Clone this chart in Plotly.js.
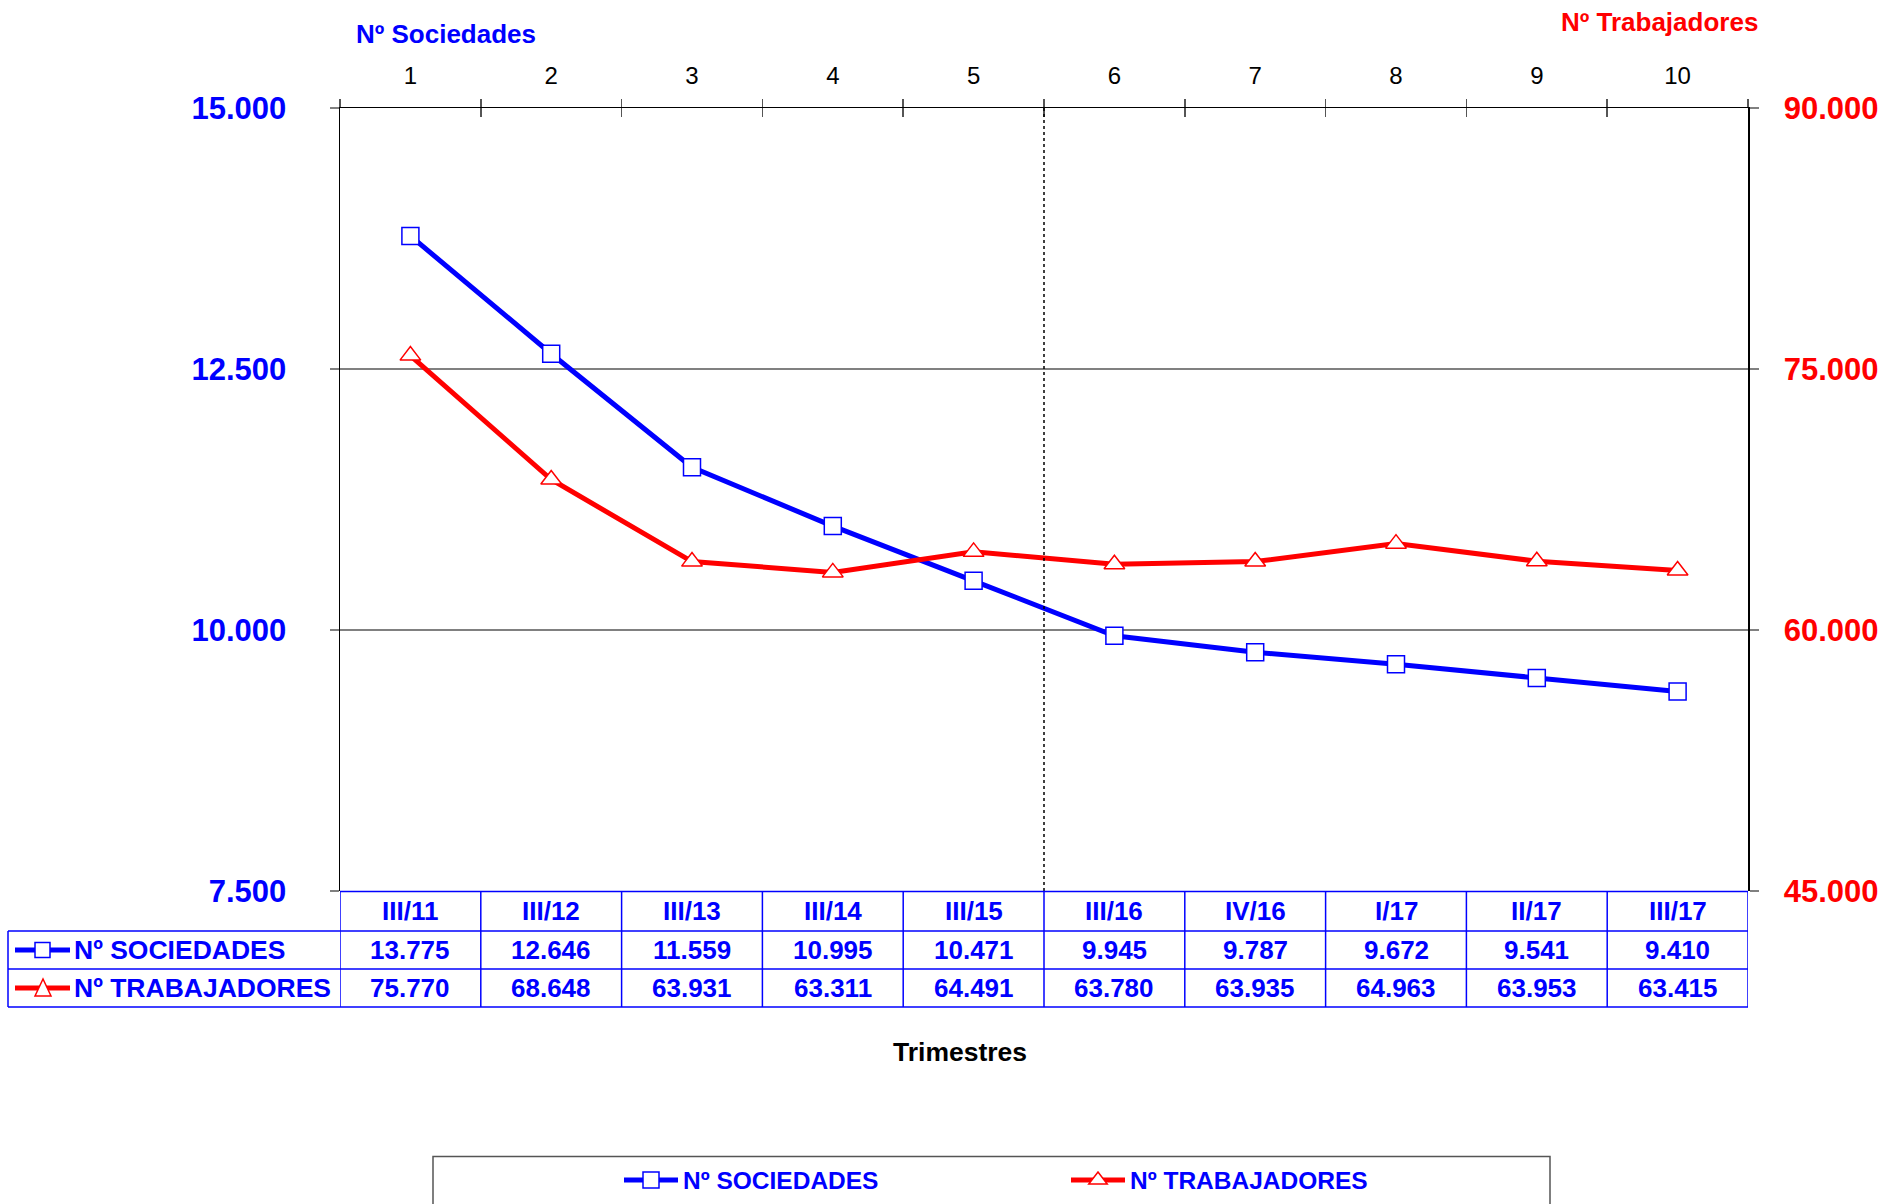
<!DOCTYPE html>
<html>
<head>
<meta charset="utf-8">
<script src="https://cdn.plot.ly/plotly-3.0.1.min.js"></script>
<style>html,body{margin:0;padding:0;background:#fff;}</style>
</head>
<body>
<div id="chart" style="width:1901px;height:1204px;"></div>
<script>
// ---- data ----
const categories = ['1','2','3','4','5','6','7','8','9','10'];
const periods = ['III/11','III/12','III/13','III/14','III/15','III/16','IV/16','I/17','II/17','III/17'];
const sociedades = [13775,12646,11559,10995,10471,9945,9787,9672,9541,9410];
const trabajadores = [75770,68648,63931,63311,64491,63780,63935,64963,63953,63415];
const seriesNames = ['Nº SOCIEDADES','Nº TRABAJADORES'];
const leftTitle = 'Nº Sociedades';
const rightTitle = 'Nº Trabajadores';
const xTitle = 'Trimestres';

// ---- geometry helpers ----
const W = 1901, H = 1204;
const M = {l:340, r:153, t:108, b:313};
const PW = W - M.l - M.r, PH = H - M.t - M.b;
const px2x = p => (p - M.l) / PW;
const px2y = p => (H - M.b - p) / PH;
const fmt = v => String(v).replace(/\B(?=(\d{3})+(?!\d))/g, '.');

const FONT = 'Arial, "Liberation Sans", Helvetica, sans-serif';
const BLUE = '#0000FF', RED = '#FF0000';

const traces = [
  {x: categories, y: sociedades, name: seriesNames[0], type: 'scatter', mode: 'lines+markers',
   xaxis: 'x', yaxis: 'y', cliponaxis: false, hoverinfo: 'skip',
   line: {color: BLUE, width: 5},
   marker: {symbol: 'square', size: 17, color: '#FFFFFF', line: {color: BLUE, width: 1.5}}},
  {x: categories, y: trabajadores, name: seriesNames[1], type: 'scatter', mode: 'lines+markers',
   xaxis: 'x', yaxis: 'y2', cliponaxis: false, hoverinfo: 'skip',
   line: {color: RED, width: 5},
   marker: {symbol: 'triangle-up', size: 18, color: '#FFFFFF', line: {color: RED, width: 1.5}}},
  {x: categories, y: categories.map(() => null), xaxis: 'x3', yaxis: 'y', type: 'scatter',
   mode: 'lines', showlegend: false, hoverinfo: 'skip'}
];

const shapes = [];
const tl = {color: BLUE, width: 1.5};
// dotted divider between 5 and 6
shapes.push({type:'line', xref:'x', yref:'paper', x0:4.5, x1:4.5, y0:0, y1:1,
  line:{color:'#000', width:1.5, dash:'dot'}});
// table: header top line
shapes.push({type:'line', xref:'x', yref:'paper', x0:-0.5, x1:categories.length-0.5,
  y0:px2y(891.5), y1:px2y(891.5), line:tl});
// row lines
[931, 969, 1007].forEach(py => shapes.push({type:'line', xref:'paper', yref:'paper',
  x0:px2x(8), x1:px2x(1748), y0:px2y(py), y1:px2y(py), line:tl}));
// column lines
for (let k = 0; k <= categories.length; k++) {
  shapes.push({type:'line', xref:'x', yref:'paper', x0:k-0.5, x1:k-0.5,
    y0:px2y(891), y1:px2y(1007), line:tl});
}
shapes.push({type:'line', xref:'paper', yref:'paper', x0:px2x(8), x1:px2x(8),
  y0:px2y(931), y1:px2y(1007), line:tl});
// row label symbols
shapes.push({type:'line', xref:'paper', yref:'paper', x0:px2x(15), x1:px2x(70),
  y0:px2y(950), y1:px2y(950), line:{color:BLUE, width:5}});
shapes.push({type:'rect', xref:'paper', yref:'paper', x0:px2x(35), x1:px2x(50),
  y0:px2y(942.5), y1:px2y(957.5), fillcolor:'#FFFFFF', line:{color:BLUE, width:1.5}});
shapes.push({type:'line', xref:'paper', yref:'paper', x0:px2x(15), x1:px2x(70),
  y0:px2y(988), y1:px2y(988), line:{color:RED, width:5}});
shapes.push({type:'path', xref:'paper', yref:'paper',
  path:'M'+px2x(35)+','+px2y(996)+' L'+px2x(51)+','+px2y(996)+' L'+px2x(43)+','+px2y(979)+' Z',
  fillcolor:'#FFFFFF', line:{color:RED, width:1.5}});
// legend box
shapes.push({type:'rect', xref:'paper', yref:'paper', x0:px2x(433), x1:px2x(1550),
  y0:px2y(1156.5), y1:px2y(1240), fillcolor:'rgba(0,0,0,0)', line:{color:'#555555', width:1.5}});

const annotations = [];
const cellFont = {family: FONT, size: 26, color: BLUE, weight: 'bold'};
categories.forEach((c, i) => {
  annotations.push({x: i, xref:'x', y: px2y(911), yref:'paper', text: periods[i],
    showarrow:false, font: cellFont, xanchor:'center', yanchor:'middle'});
  annotations.push({x: i, xref:'x', y: px2y(950), yref:'paper', text: fmt(sociedades[i]),
    showarrow:false, font: cellFont, xanchor:'center', yanchor:'middle'});
  annotations.push({x: i, xref:'x', y: px2y(988), yref:'paper', text: fmt(trabajadores[i]),
    showarrow:false, font: cellFont, xanchor:'center', yanchor:'middle'});
});
annotations.push({x: px2x(72), xref:'paper', y: px2y(950), yref:'paper', text: seriesNames[0],
  showarrow:false, xanchor:'left', yanchor:'middle', font:{family:FONT, size:26.5, color:BLUE, weight:'bold'}});
annotations.push({x: px2x(72), xref:'paper', y: px2y(988), yref:'paper', text: seriesNames[1],
  showarrow:false, xanchor:'left', yanchor:'middle', font:{family:FONT, size:26.5, color:BLUE, weight:'bold'}});
annotations.push({x: px2x(445.5), xref:'paper', y: px2y(34), yref:'paper', text: leftTitle,
  showarrow:false, xanchor:'center', yanchor:'middle', font:{family:FONT, size:26, color:BLUE, weight:'bold'}});
annotations.push({x: px2x(1659), xref:'paper', y: px2y(22), yref:'paper', text: rightTitle,
  showarrow:false, xanchor:'center', yanchor:'middle', font:{family:FONT, size:26, color:RED, weight:'bold'}});
annotations.push({x: px2x(960), xref:'paper', y: px2y(1052), yref:'paper', text: xTitle,
  showarrow:false, xanchor:'center', yanchor:'middle', font:{family:FONT, size:26.5, color:'#000', weight:'bold'}});

const layout = {
  width: W, height: H,
  margin: {l:M.l, r:M.r, t:M.t, b:M.b, pad:0, autoexpand:false},
  paper_bgcolor:'#FFFFFF', plot_bgcolor:'#FFFFFF',
  separators: ',.',
  font: {family: FONT},
  hovermode: false,
  showlegend: true,
  legend: {orientation:'h', x: px2x(619), xanchor:'left', y: px2y(1180), yanchor:'middle',
    font:{family:FONT, size:24.5, color:BLUE, weight:'bold'}, itemwidth:54, entrywidth:378,
    bgcolor:'rgba(0,0,0,0)', borderwidth:0, traceorder:'normal'},
  xaxis: {type:'category', side:'top', range:[-0.5, categories.length-0.5], tickson:'boundaries',
    ticks:'outside', ticklen:8, tickwidth:1.5, tickcolor:'#555555',
    showline:true, linecolor:'#000000', linewidth:1.5, showgrid:false, zeroline:false,
    tickfont:{family:FONT, size:24, color:'#000000'}, ticklabelstandoff:13, fixedrange:true},
  xaxis3: {type:'category', overlaying:'x', side:'top', anchor:'y', range:[-0.5, categories.length-0.5],
    tickson:'boundaries', ticks:'inside', ticklen:9, tickwidth:1.5, tickcolor:'#555555',
    showticklabels:false, showline:false, showgrid:false, zeroline:false, fixedrange:true},
  yaxis: {range:[7500, 15000], tick0:7500, dtick:2500, tickformat:',d',
    ticks:'outside', ticklen:9, tickwidth:1.5, tickcolor:'#808080',
    showline:true, linecolor:'#000000', linewidth:1.5,
    showgrid:true, gridcolor:'#808080', gridwidth:1.5, zeroline:false,
    tickfont:{family:FONT, size:31, color:BLUE, weight:'bold'}, ticklabelstandoff:37, fixedrange:true},
  yaxis2: {overlaying:'y', side:'right', range:[45000, 90000], tick0:45000, dtick:15000, tickformat:',d',
    ticks:'outside', ticklen:9, tickwidth:1.5, tickcolor:'#808080',
    showline:true, linecolor:'#000000', linewidth:1.5, showgrid:false, zeroline:false,
    tickfont:{family:FONT, size:31, color:RED, weight:'bold'}, ticklabelstandoff:19, fixedrange:true},
  shapes: shapes,
  annotations: annotations
};

Plotly.newPlot('chart', traces, layout, {displayModeBar:false, staticPlot:true});
</script>
</body>
</html>
